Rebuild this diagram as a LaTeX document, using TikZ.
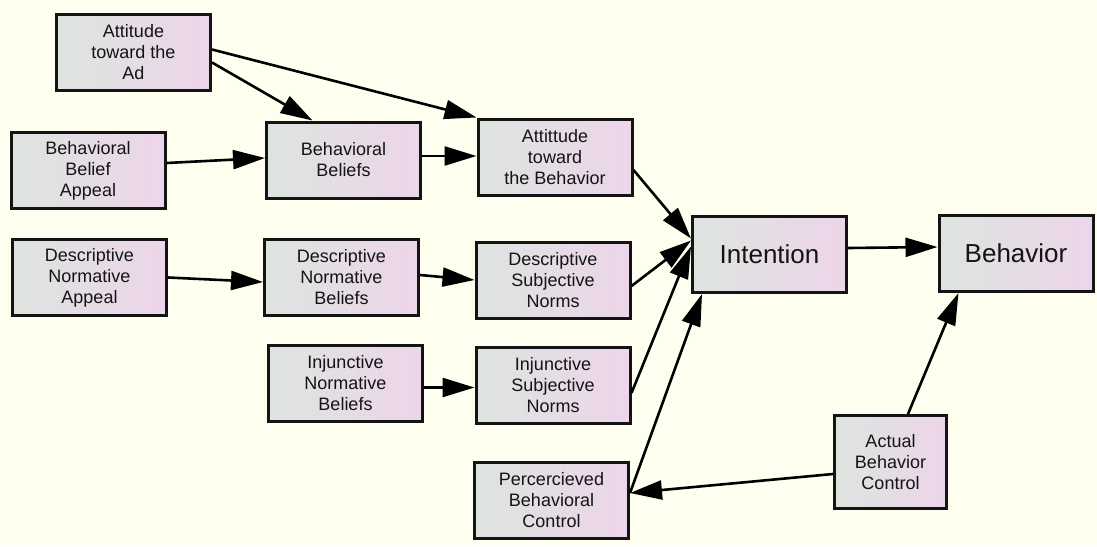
\documentclass[tikz,border=0pt]{standalone}
\usepackage{fontspec}
\setmainfont{Liberation Sans}
\usetikzlibrary{arrows.meta}
\definecolor{pagebg}{RGB}{255,255,240}
\definecolor{boxleft}{RGB}{221,228,223}
\definecolor{boxright}{RGB}{237,213,234}
\definecolor{ink}{RGB}{20,20,20}
\tikzset{
  factor/.style={draw=ink, line width=3pt, left color=boxleft, right color=boxright,
    minimum width=154pt, minimum height=76pt, inner sep=0pt, align=center,
    text=ink, font=\fontsize{18}{21}\selectfont},
  bigfactor/.style={factor, font=\fontsize{26}{30}\selectfont},
  link/.style={draw=black, line width=2.6pt, -{Triangle[length=32pt,width=19pt]}}
}
\begin{document}
\begin{tikzpicture}[x=1pt, y=-1pt]
\fill[pagebg] (0,0) rectangle (1097,546);
\useasboundingbox (0,0) rectangle (1097,546);

% left column: appeals
\node[factor] (ad)  at (133.5,52.5) {Attitude\\toward the\\Ad};
\node[factor] (bba) at (88,170.5)   {Behavioral\\Belief\\Appeal};
\node[factor] (dna) at (89.5,277.5) {Descriptive\\Normative\\Appeal};

% beliefs
\node[factor] (bb)  at (343.5,160)  {Behavioral\\Beliefs};
\node[factor] (dnb) at (341.5,277)  {Descriptive\\Normative\\Beliefs};
\node[factor] (inb) at (345.5,383.5){Injunctive\\Normative\\Beliefs};

% attitudes, norms and control
\node[factor] (atb) at (555,157)    {Attittude\\toward\\the Behavior};
\node[factor] (dsn) at (553,280)    {Descriptive\\Subjective\\Norms};
\node[factor] (isn) at (553,385.5)  {Injunctive\\Subjective\\Norms};
\node[factor] (pbc) at (551.5,500)  {Percercieved\\Behavioral\\Control};
\node[factor, minimum width=112pt, minimum height=93pt] (abc) at (890.5,462) {Actual\\Behavior\\Control};

% outcome
\node[bigfactor] (int) at (769.5,254.5) {Intention};
\node[bigfactor] (beh) at (1016,253.5)  {Behavior};

% connectors
\draw[link] ([yshift=-10pt]ad.east) -- ([xshift=-31pt]bb.north);
\draw[link] ([yshift=3pt]ad.east) -- (atb.north west);
\draw[link] ([yshift=7.5pt]bba.east) -- ([yshift=2pt]bb.west);
\draw[link] ([yshift=4pt]bb.east) -- ([yshift=1pt]atb.west);
\draw[link] (dna.east) -- ([yshift=-5pt]dnb.west);
\draw[link] ([yshift=2pt]dnb.east) -- (dsn.west);
\draw[link] ([yshift=-4pt]inb.east) -- ([yshift=-2pt]isn.west);

\draw[link] ([yshift=-13pt]atb.east) -- ([yshift=16pt]int.west);
\draw[link] ([yshift=-6pt]dsn.east) -- ([yshift=14pt]int.west);
\draw[link] ([yshift=-7.5pt]isn.east) -- ([yshift=8pt]int.west);
\draw[link] ([yshift=7pt]pbc.east) -- ([xshift=11pt]int.south west);

\draw[link] ([yshift=6.5pt]int.east) -- ([yshift=6.5pt]beh.west);
\draw[link] ([xshift=17.5pt]abc.north) -- ([xshift=21pt]beh.south west);
\draw[link] ([yshift=-12pt]abc.west) -- ([yshift=7pt]pbc.east);
\end{tikzpicture}
\end{document}
